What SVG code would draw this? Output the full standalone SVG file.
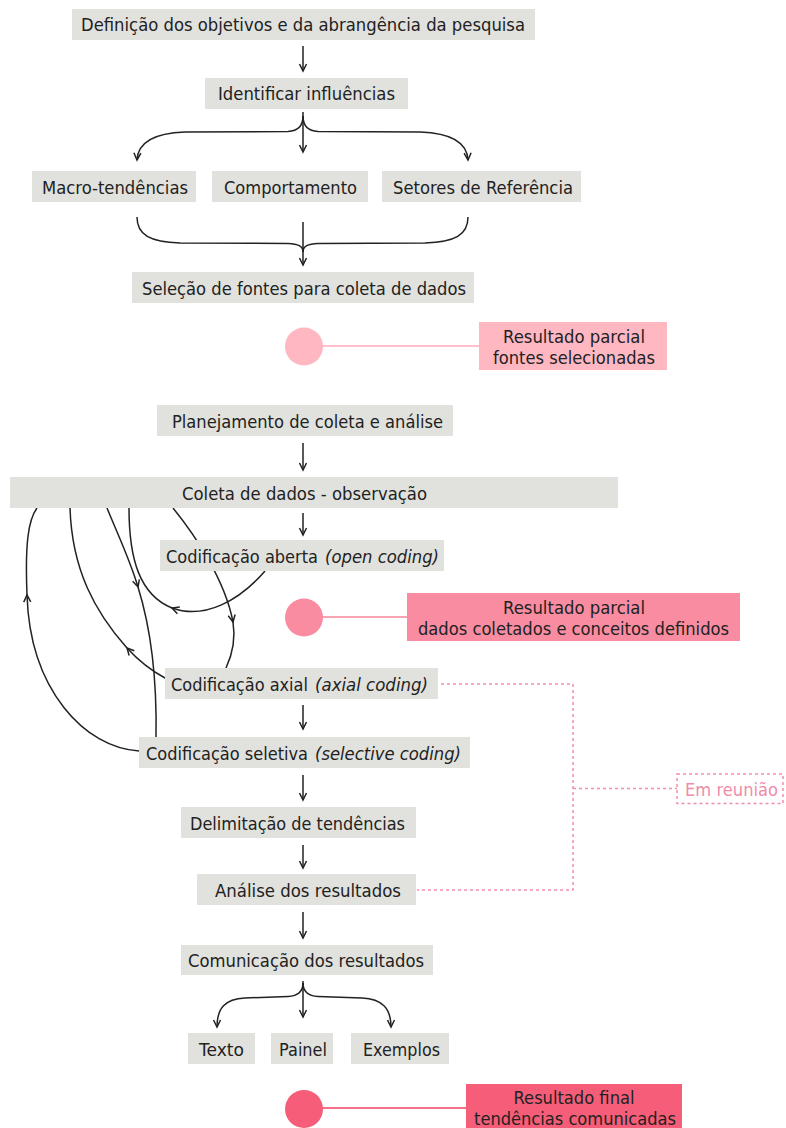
<svg xmlns="http://www.w3.org/2000/svg" width="786" height="1128" viewBox="0 0 786 1128">
<defs>
<style>
.box{fill:#e1e1dd}
.t{font-family:"DejaVu Sans","Liberation Sans",sans-serif;font-size:18px;fill:#222;text-anchor:middle}
.s{text-anchor:start}
.i{font-style:italic}
.c{fill:none;stroke:#222;stroke-width:1.5}
.d{fill:none;stroke:#f28fab;stroke-width:1.5;stroke-dasharray:3 3}
.em{font-family:"DejaVu Sans","Liberation Sans",sans-serif;font-size:18px;fill:#f08ca8;text-anchor:middle}
</style>
<marker id="a" markerUnits="userSpaceOnUse" markerWidth="12" markerHeight="12" viewBox="-9 -6 12 12" refX="0" refY="0" orient="auto" overflow="visible">
<path d="M-7,-3.5 L0,0 L-7,3.5" fill="none" stroke="#222" stroke-width="1.5"/>
</marker>
</defs>

<g id="connectors">
<path class="c" d="M303,46 L303,71" marker-end="url(#a)"/>
<path class="c" d="M303,112 L303,152" marker-end="url(#a)"/>
<path class="c" d="M303,116 C303,126 298,131 288,131.5 L185,132 C155,133 138,142 137,160" marker-end="url(#a)"/>
<path class="c" d="M303,116 C303,126 308,131 318,131.5 L420,132 C450,133 467,142 468,160" marker-end="url(#a)"/>
<path class="c" d="M137,217 C137,235 150,242 180,243 L288,243.5 C298,244 303,246 303,252"/>
<path class="c" d="M468,217 C468,235 455,242 425,243 L318,243.5 C308,244 303,246 303,252"/>
<path class="c" d="M303,222 L303,265" marker-end="url(#a)"/>
<path class="c" d="M303,443 L303,470" marker-end="url(#a)"/>
<path class="c" d="M303,513 L303,535" marker-end="url(#a)"/>
<path class="c" d="M303,705 L303,729" marker-end="url(#a)"/>
<path class="c" d="M303,775 L303,800" marker-end="url(#a)"/>
<path class="c" d="M303,845 L303,868" marker-end="url(#a)"/>
<path class="c" d="M303,912 L303,938" marker-end="url(#a)"/>
<path class="c" d="M303,981 L303,1017" marker-end="url(#a)"/>
<path class="c" d="M303,983 C303,992 298,996 288,996.5 L245,998 C225,999 217,1008 217,1027" marker-end="url(#a)"/>
<path class="c" d="M303,983 C303,992 308,996 318,996.5 L362,998 C382,999 391,1008 391,1027" marker-end="url(#a)"/>
<!-- loops -->
<path class="c" d="M139,751 C85,748 30,690 27,595" marker-end="url(#a)"/>
<path class="c" d="M27,595 C25,545 28,520 37,508"/>
<path class="c" d="M165,678 C150,670 138,660 127,648" marker-end="url(#a)"/>
<path class="c" d="M127,648 C95,612 72,570 70,508"/>
<path class="c" d="M107,508 C118,535 130,560 138,587" marker-end="url(#a)"/>
<path class="c" d="M138,587 C152,632 157,680 156,737"/>
<path class="c" d="M265,571 C240,600 205,620 172,608" marker-end="url(#a)"/>
<path class="c" d="M172,608 C140,595 129,560 129,508"/>
<path class="c" d="M173,508 C195,535 225,580 233,622" marker-end="url(#a)"/>
<path class="c" d="M233,622 C236,640 232,655 226,668"/>
<!-- result lines -->
<line x1="320" y1="346" x2="480" y2="346" stroke="#ffc0cb" stroke-width="2"/>
<line x1="320" y1="617" x2="407" y2="617" stroke="#f9a3b3" stroke-width="2"/>
<line x1="320" y1="1108" x2="467" y2="1108" stroke="#f56f88" stroke-width="2"/>
<!-- dashed meeting -->
<path class="d" d="M441,684 L573,684 L573,890 L417,890"/>
<path class="d" d="M573,788.5 L677,788.5"/>
</g>

<g id="n1"><rect class="box" x="72" y="9" width="463" height="31"/><text class="t" x="303" y="31" style="font-size:17px" textLength="444" lengthAdjust="spacingAndGlyphs">Definição dos objetivos e da abrangência da pesquisa</text></g>
<g id="n2"><rect class="box" x="205" y="78" width="203" height="31"/><text class="t" x="306.5" y="100" textLength="177" lengthAdjust="spacingAndGlyphs">Identificar influências</text></g>
<g id="n3"><rect class="box" x="32" y="171" width="164" height="31"/><text class="t" x="115" y="193.5" textLength="146" lengthAdjust="spacingAndGlyphs">Macro-tendências</text></g>
<g id="n4"><rect class="box" x="212" y="171" width="156" height="31"/><text class="t" x="290.5" y="193.5" textLength="133" lengthAdjust="spacingAndGlyphs">Comportamento</text></g>
<g id="n5"><rect class="box" x="382" y="171" width="199" height="31"/><text class="t" x="483" y="193.5" textLength="180" lengthAdjust="spacingAndGlyphs">Setores de Referência</text></g>
<g id="n6"><rect class="box" x="132" y="272" width="342" height="31"/><text class="t" x="304" y="294.5" textLength="324" lengthAdjust="spacingAndGlyphs">Seleção de fontes para coleta de dados</text></g>
<g id="r1"><circle cx="304" cy="346.5" r="19" fill="#ffb7c2"/><rect x="479" y="322" width="188" height="48" fill="#ffb7c2"/><text class="t" x="574" y="343" textLength="142" lengthAdjust="spacingAndGlyphs">Resultado parcial</text><text class="t" x="574" y="364" textLength="162" lengthAdjust="spacingAndGlyphs">fontes selecionadas</text></g>
<g id="n7"><rect class="box" x="157" y="405" width="296" height="31"/><text class="t" x="307.5" y="427.5" textLength="271" lengthAdjust="spacingAndGlyphs">Planejamento de coleta e análise</text></g>
<g id="n8"><rect class="box" x="10" y="477" width="608" height="31"/><text class="t" x="304.5" y="499.5" textLength="245" lengthAdjust="spacingAndGlyphs">Coleta de dados - observação</text></g>
<g id="n9"><rect class="box" x="160" y="540" width="284" height="31"/><text class="t s" x="166" y="562.5" textLength="152" lengthAdjust="spacingAndGlyphs">Codificação aberta</text><text class="t s i" x="325" y="562.5" textLength="114" lengthAdjust="spacingAndGlyphs">(open coding)</text></g>
<g id="r2"><circle cx="304" cy="617.5" r="19" fill="#f98ca1"/><rect x="407" y="593" width="333" height="48" fill="#f98ca1"/><text class="t" x="574" y="613.5" textLength="142" lengthAdjust="spacingAndGlyphs">Resultado parcial</text><text class="t" x="573.5" y="635" textLength="311" lengthAdjust="spacingAndGlyphs">dados coletados e conceitos definidos</text></g>
<g id="n10"><rect class="box" x="165" y="668" width="273" height="31"/><text class="t s" x="171" y="690.5" textLength="137" lengthAdjust="spacingAndGlyphs">Codificação axial</text><text class="t s i" x="315" y="690.5" textLength="113" lengthAdjust="spacingAndGlyphs">(axial coding)</text></g>
<g id="n11"><rect class="box" x="139" y="737" width="331" height="31"/><text class="t s" x="146" y="759.5" textLength="162" lengthAdjust="spacingAndGlyphs">Codificação seletiva</text><text class="t s i" x="315" y="759.5" textLength="146" lengthAdjust="spacingAndGlyphs">(selective coding)</text></g>
<g id="n12"><rect x="677" y="774" width="106" height="29.5" fill="#fff" class="d"/><text class="em" x="731.5" y="795.5" textLength="93" lengthAdjust="spacingAndGlyphs">Em reunião</text></g>
<g id="n13"><rect class="box" x="181" y="807" width="235" height="31"/><text class="t" x="297.5" y="829.5" textLength="215" lengthAdjust="spacingAndGlyphs">Delimitação de tendências</text></g>
<g id="n14"><rect class="box" x="197" y="874" width="219" height="31"/><text class="t" x="308" y="896.5" textLength="186" lengthAdjust="spacingAndGlyphs">Análise dos resultados</text></g>
<g id="n15"><rect class="box" x="181" y="945" width="252" height="30"/><text class="t" x="306" y="967" textLength="236" lengthAdjust="spacingAndGlyphs">Comunicação dos resultados</text></g>
<g id="n16"><rect class="box" x="188" y="1033" width="67" height="31"/><text class="t" x="221.5" y="1055.5" textLength="45" lengthAdjust="spacingAndGlyphs">Texto</text></g>
<g id="n17"><rect class="box" x="271" y="1033" width="62" height="31"/><text class="t" x="303" y="1055.5" textLength="48" lengthAdjust="spacingAndGlyphs">Painel</text></g>
<g id="n18"><rect class="box" x="351" y="1033" width="98" height="31"/><text class="t" x="401.5" y="1055.5" textLength="77" lengthAdjust="spacingAndGlyphs">Exemplos</text></g>
<g id="r3"><circle cx="304" cy="1109" r="19" fill="#f55d78"/><rect x="466" y="1084" width="216" height="50" fill="#f55d78"/><text class="t" x="574" y="1103.5" textLength="121" lengthAdjust="spacingAndGlyphs">Resultado final</text><text class="t" x="575" y="1125" textLength="202" lengthAdjust="spacingAndGlyphs">tendências comunicadas</text></g>
</svg>
